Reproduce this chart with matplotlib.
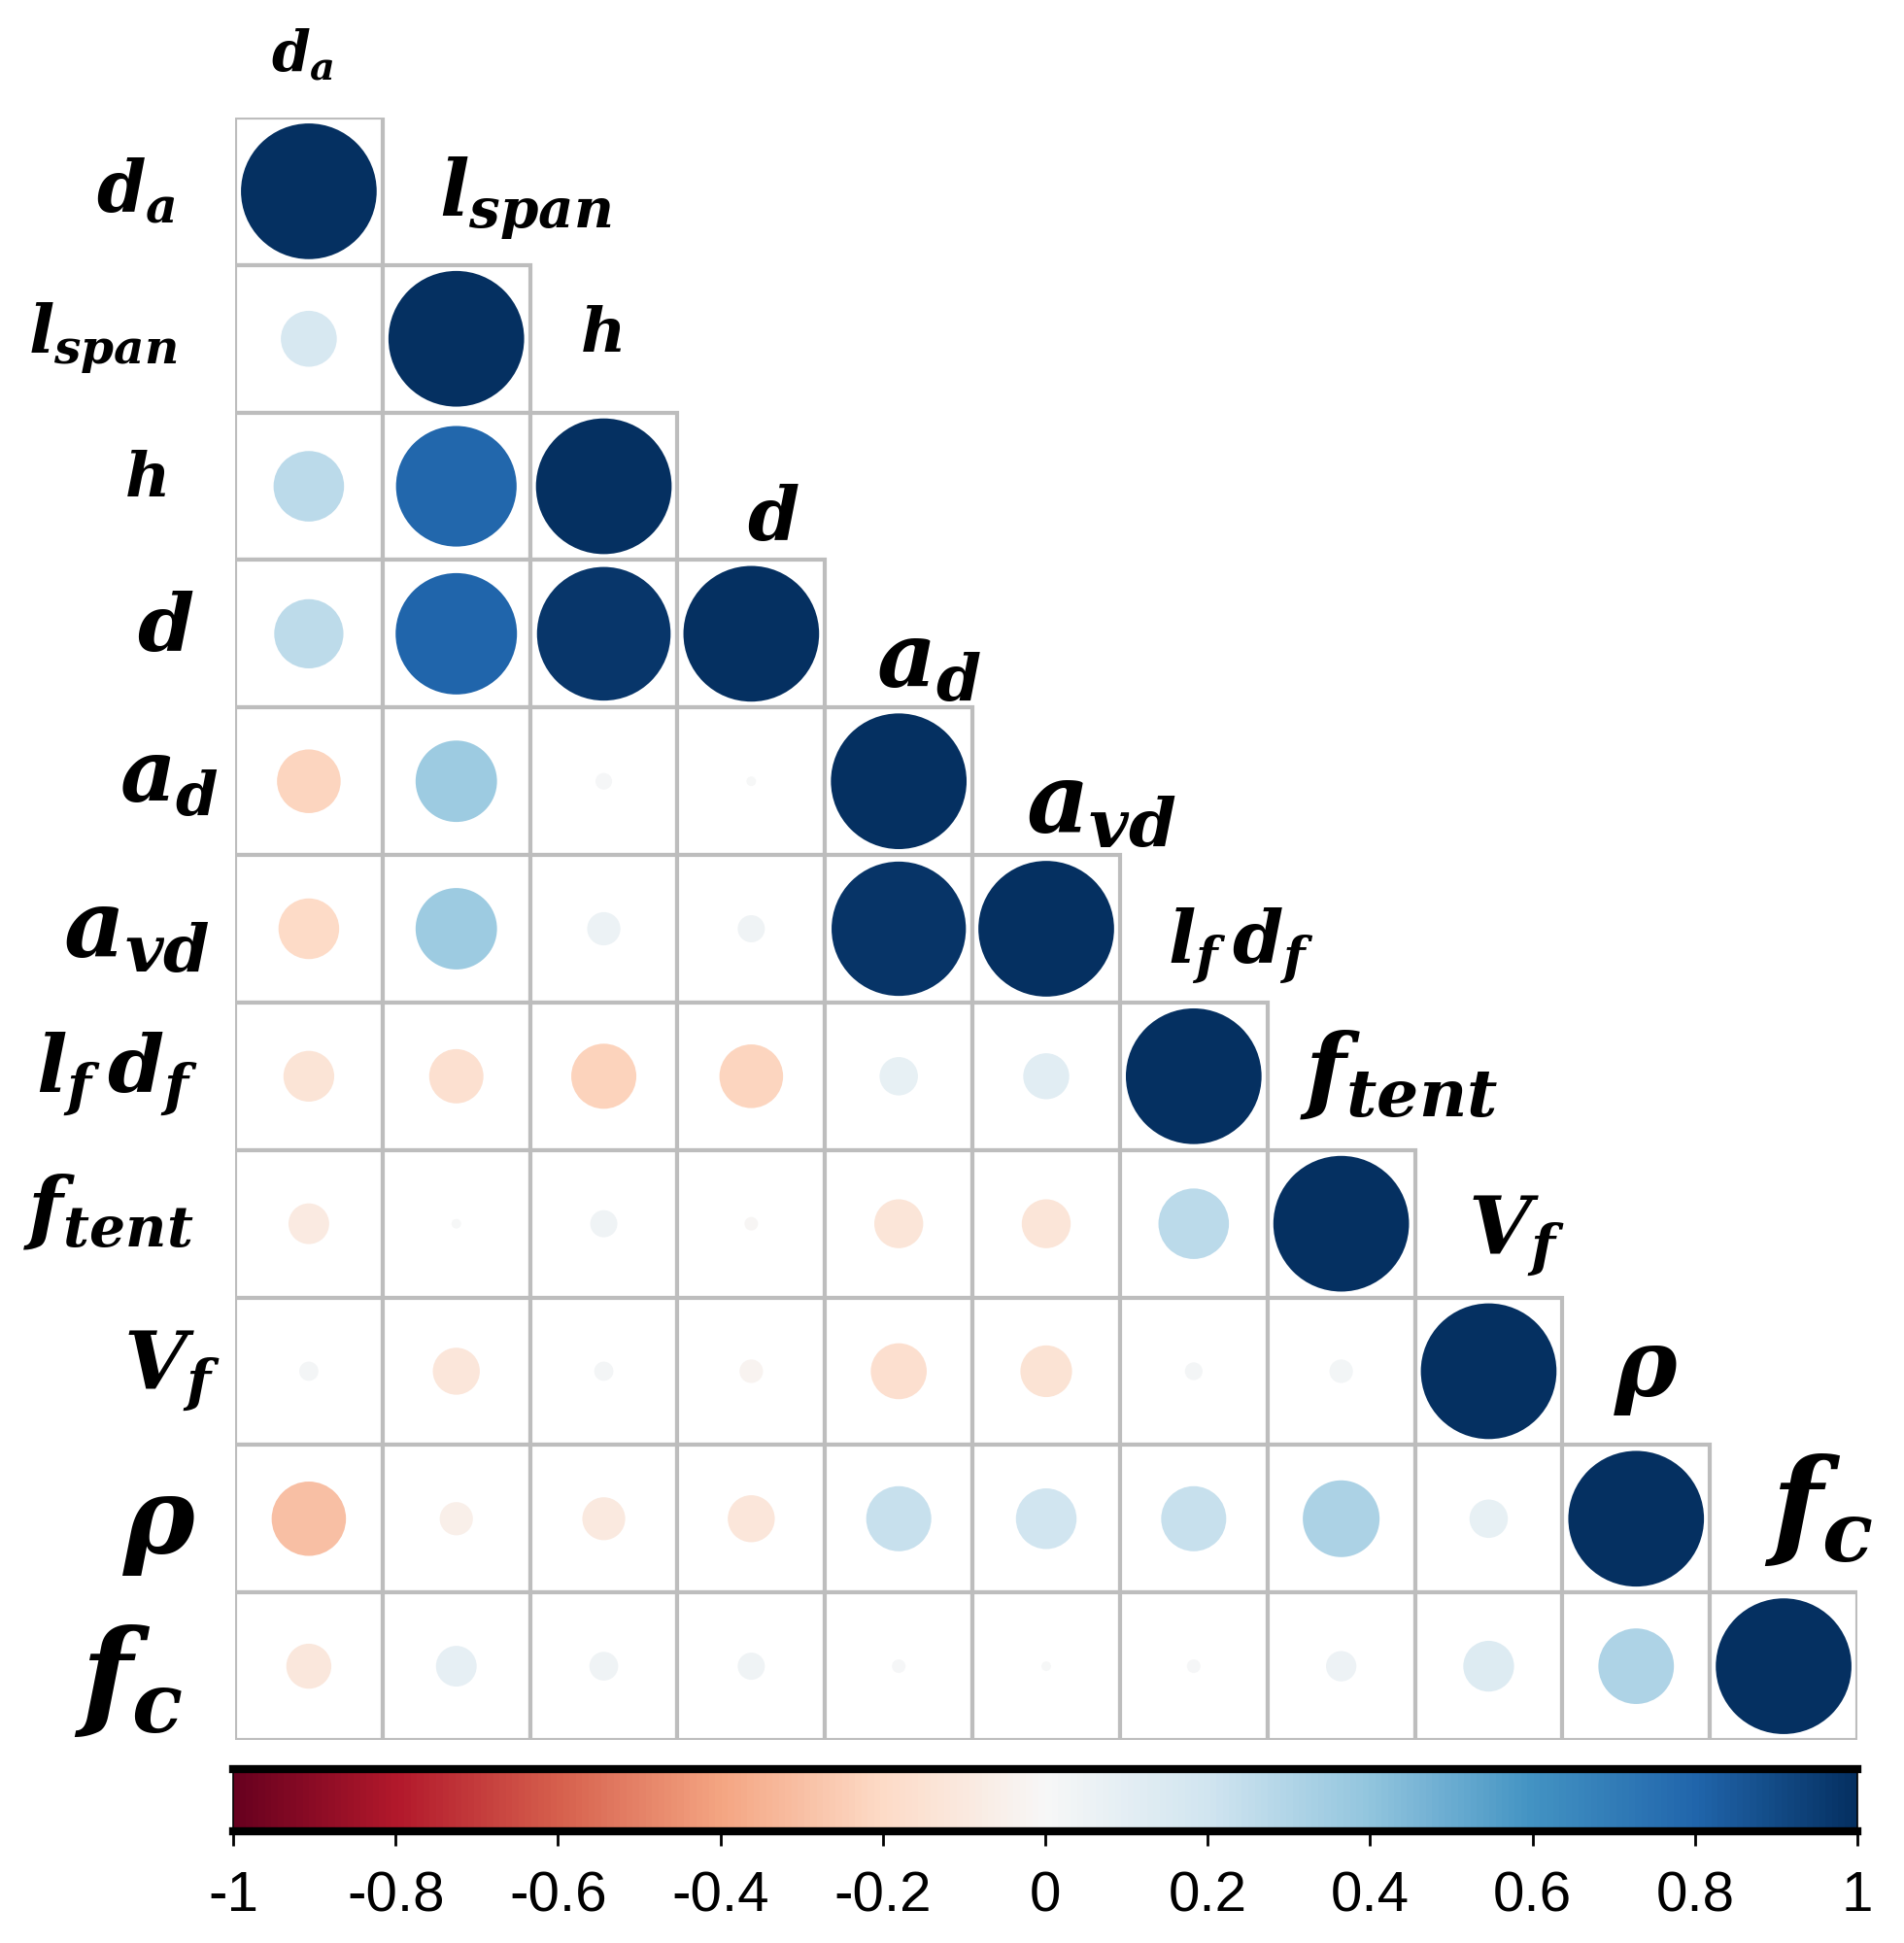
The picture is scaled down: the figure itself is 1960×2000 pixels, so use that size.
import matplotlib
matplotlib.use("Agg")
import matplotlib.pyplot as plt
import numpy as np
from matplotlib.patches import Rectangle, Ellipse
from matplotlib.colors import Normalize
from matplotlib.cm import ScalarMappable

plt.rcParams["mathtext.fontset"] = "custom"
plt.rcParams["mathtext.it"] = "DejaVu Serif:italic:bold"
plt.rcParams["mathtext.rm"] = "DejaVu Serif:bold"
plt.rcParams["mathtext.bf"] = "DejaVu Serif:bold"

# variables (row / column order)
names = [r"$d_a$", r"$l_{span}$", r"$h$", r"$d$", r"$a_d$", r"$a_{vd}$",
         r"$l_f\,d_f$", r"$f_{tent}$", r"$V_f$", r"$\rho$", r"$f_c$"]

# lower-triangle correlation values, row by row (diagonal = 1)
r_lspan = [0.17]
r_h = [0.27, 0.79]
r_d = [0.26, 0.80, 0.97]
r_ad = [-0.22, 0.36, 0.015, 0.005]
r_avd = [-0.20, 0.36, 0.06, 0.04, 0.98]
r_lfdf = [-0.14, -0.16, -0.23, -0.22, 0.08, 0.115]
r_ftent = [-0.09, 0.005, 0.04, -0.01, -0.13, -0.13, 0.27]
r_vf = [0.02, -0.12, 0.02, -0.03, -0.17, -0.145, 0.017, 0.03]
r_rho = [-0.30, -0.06, -0.10, -0.12, 0.23, 0.20, 0.23, 0.32, 0.08]
r_fc = [-0.11, 0.09, 0.045, 0.04, 0.01, 0.005, 0.01, 0.05, 0.14, 0.31]
lower = [[], r_lspan, r_h, r_d, r_ad, r_avd, r_lfdf, r_ftent, r_vf, r_rho, r_fc]

cbar_ticks = [-1, -0.8, -0.6, -0.4, -0.2, 0, 0.2, 0.4, 0.6, 0.8, 1]
cbar_ticklabels = ["-1", "-0.8", "-0.6", "-0.4", "-0.2", "0", "0.2", "0.4", "0.6", "0.8", "1"]

# label layout (data units, pt)
row_lab_x = [-0.67, -0.90, -0.61, -0.47, -0.45, -0.67, -0.80, -0.86, -0.43, -0.51, -0.72]
row_lab_y = [0.50, 1.50, 2.45, 3.47, 4.48, 5.52, 6.49, 7.42, 8.50, 9.55, 10.60]
row_lab_fs = [52, 50, 46, 60, 64, 70, 60, 60, 60, 80, 88]
col_lab_x = [0.46, 1.97, 2.48, 3.65, 4.70, 5.87, 6.82, 7.89, 8.69, 9.57, 10.74]
col_lab_y = [-0.42, 0.55, 1.47, 2.73, 3.69, 4.66, 5.62, 6.49, 7.59, 8.51, 9.44]
col_lab_fs = [41, 58, 46, 55, 68, 72, 54, 70, 60, 70, 88]

n = len(names)
corr = np.eye(n)
for i, row in enumerate(lower):
    for j, v in enumerate(row):
        corr[i, j] = v

cmap = plt.get_cmap("RdBu")
norm = Normalize(-1, 1)

fig = plt.figure(figsize=(19.6, 20), dpi=100)
ax = fig.add_axes([242 / 1960, 1 - 1791 / 2000, 1670 / 1960, 1670 / 2000])
ax.set_xlim(0, n)
ax.set_ylim(n, 0)
ax.axis("off")

for i in range(n):
    for j in range(i + 1):
        ax.add_patch(Rectangle((j, i), 1, 1, facecolor="white", edgecolor="#bdbdbd",
                               lw=3, zorder=1))
for i in range(n):
    for j in range(i + 1):
        v = corr[i, j]
        d = 0.92 * np.sqrt(abs(v))
        ax.add_patch(Ellipse((j + 0.5, i + 0.5), d, d, facecolor=cmap(norm(v)),
                             edgecolor="none", zorder=2))

for k in range(n):
    ax.text(row_lab_x[k], row_lab_y[k], names[k], fontsize=row_lab_fs[k],
            ha="center", va="center", clip_on=False)
    ax.text(col_lab_x[k], col_lab_y[k], names[k], fontsize=col_lab_fs[k],
            ha="center", va="center", clip_on=False)

# colour bar
cax = fig.add_axes([240 / 1960, 1 - 1885 / 2000, 1672 / 1960, 64 / 2000])
cb = fig.colorbar(ScalarMappable(norm=norm, cmap=cmap), cax=cax, orientation="horizontal")
cb.outline.set_linewidth(1.2)
cax.axhline(1, color="black", lw=6, clip_on=False)
cax.axhline(0, color="black", lw=6, clip_on=False)
cb.set_ticks(cbar_ticks)
cb.set_ticklabels(cbar_ticklabels)
cax.tick_params(axis="x", length=11, width=2, pad=18, labelsize=42, direction="out")
for t in cax.get_xticklabels():
    t.set_family(["Liberation Sans Narrow", "Liberation Sans", "DejaVu Sans"])

fig.savefig("out.png", dpi=100)
